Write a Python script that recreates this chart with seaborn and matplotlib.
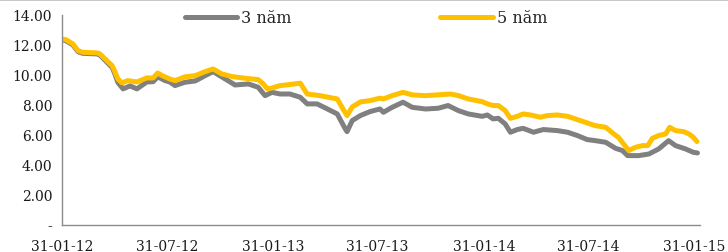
import pandas as pd
import numpy as np
import matplotlib
matplotlib.use("Agg")
import matplotlib.pyplot as plt
from matplotlib.ticker import FuncFormatter
from matplotlib.lines import Line2D
import seaborn as sns

# du lieu doc tu hinh (lai suat trai phieu chinh phu)
ngay_3nam = ["2012-01-31", "2012-02-07", "2012-02-19", "2012-02-28", "2012-03-07", "2012-04-01",
             "2012-04-06", "2012-04-18", "2012-04-27", "2012-05-02", "2012-05-07", "2012-05-16",
             "2012-05-28", "2012-06-09", "2012-06-26", "2012-07-07", "2012-07-15", "2012-07-28",
             "2012-08-05", "2012-08-14", "2012-08-31", "2012-09-18", "2012-10-05", "2012-10-19",
             "2012-11-09", "2012-11-26", "2012-12-19", "2013-01-05", "2013-01-17", "2013-01-29",
             "2013-02-12", "2013-03-01", "2013-03-19", "2013-03-31", "2013-04-17", "2013-05-05",
             "2013-05-22", "2013-06-05", "2013-06-08", "2013-06-17", "2013-07-01", "2013-07-18",
             "2013-08-04", "2013-08-10", "2013-08-25", "2013-09-13", "2013-09-29", "2013-10-22",
             "2013-11-13", "2013-11-30", "2013-12-18", "2014-01-04", "2014-01-28", "2014-02-06",
             "2014-02-16", "2014-02-25", "2014-03-09", "2014-03-18", "2014-03-30", "2014-04-09",
             "2014-04-27", "2014-05-14", "2014-06-07", "2014-06-25", "2014-07-12", "2014-07-29",
             "2014-08-12", "2014-08-30", "2014-09-16", "2014-09-28", "2014-10-07", "2014-10-26",
             "2014-11-13", "2014-11-30", "2014-12-17", "2014-12-29", "2015-01-15", "2015-01-29",
             "2015-02-05"]
ls_3nam = [12.35, 12.28, 12.00, 11.55, 11.44, 11.40,
           11.32, 10.85, 10.50, 10.05, 9.50, 9.07,
           9.27, 9.07, 9.53, 9.55, 9.87, 9.62,
           9.53, 9.29, 9.51, 9.60, 9.95, 10.22,
           9.73, 9.33, 9.40, 9.18, 8.62, 8.84,
           8.73, 8.73, 8.51, 8.07, 8.07, 7.73,
           7.40, 6.40, 6.22, 6.96, 7.29, 7.56,
           7.73, 7.51, 7.84, 8.18, 7.84, 7.73,
           7.78, 7.96, 7.62, 7.40, 7.24, 7.33,
           7.07, 7.11, 6.73, 6.18, 6.36, 6.44,
           6.18, 6.36, 6.29, 6.18, 5.96, 5.69,
           5.62, 5.51, 5.11, 4.96, 4.62, 4.62,
           4.73, 5.07, 5.62, 5.29, 5.07, 4.84,
           4.80]

ngay_5nam = ["2012-01-31", "2012-02-07", "2012-02-19", "2012-02-28", "2012-03-07", "2012-04-01",
             "2012-04-06", "2012-04-18", "2012-04-27", "2012-05-02", "2012-05-07", "2012-05-14",
             "2012-05-24", "2012-06-09", "2012-06-26", "2012-07-07", "2012-07-15", "2012-07-24",
             "2012-08-05", "2012-08-14", "2012-08-31", "2012-09-18", "2012-10-05", "2012-10-19",
             "2012-11-03", "2012-11-21", "2012-12-13", "2013-01-05", "2013-01-14", "2013-01-21",
             "2013-01-29", "2013-02-12", "2013-03-01", "2013-03-19", "2013-03-31", "2013-04-22",
             "2013-05-22", "2013-06-01", "2013-06-08", "2013-06-17", "2013-07-01", "2013-07-18",
             "2013-08-04", "2013-08-10", "2013-08-25", "2013-09-13", "2013-09-29", "2013-10-22",
             "2013-11-11", "2013-12-04", "2013-12-18", "2014-01-04", "2014-01-28", "2014-02-06",
             "2014-02-16", "2014-02-25", "2014-03-09", "2014-03-18", "2014-03-30", "2014-04-09",
             "2014-04-22", "2014-05-09", "2014-05-21", "2014-06-07", "2014-06-25", "2014-07-12",
             "2014-07-29", "2014-08-12", "2014-08-30", "2014-09-13", "2014-09-21", "2014-09-30",
             "2014-10-09", "2014-10-21", "2014-11-02", "2014-11-11", "2014-11-19", "2014-11-30",
             "2014-12-12", "2014-12-19", "2014-12-29", "2015-01-12", "2015-01-21", "2015-01-29",
             "2015-02-04"]
ls_5nam = [12.40, 12.35, 12.07, 11.62, 11.51, 11.47,
           11.40, 10.95, 10.62, 10.20, 9.73, 9.47,
           9.62, 9.53, 9.80, 9.80, 10.13, 9.93,
           9.73, 9.62, 9.87, 9.95, 10.22, 10.40,
           10.07, 9.89, 9.78, 9.69, 9.40, 9.07,
           9.13, 9.29, 9.36, 9.45, 8.73, 8.62,
           8.40, 7.73, 7.29, 7.87, 8.20, 8.29,
           8.45, 8.40, 8.62, 8.84, 8.67, 8.62,
           8.67, 8.73, 8.62, 8.40, 8.22, 8.07,
           7.96, 7.96, 7.62, 7.11, 7.24, 7.40,
           7.33, 7.18, 7.29, 7.33, 7.24, 7.02,
           6.80, 6.62, 6.51, 6.07, 5.84, 5.40,
           4.96, 5.18, 5.29, 5.29, 5.78, 5.96,
           6.07, 6.51, 6.29, 6.22, 6.07, 5.84,
           5.56]

ten_chuoi = ["3 năm", "5 năm"]
mau = ["#808080", "#FFC000"]
nhan_x = ["31-01-12", "31-07-12", "31-01-13", "31-07-13", "31-01-14", "31-07-14", "31-01-15"]

df = pd.concat([
    pd.DataFrame({"ngay": pd.to_datetime(ngay_3nam), "ls": ls_3nam, "ky_han": ten_chuoi[0]}),
    pd.DataFrame({"ngay": pd.to_datetime(ngay_5nam), "ls": ls_5nam, "ky_han": ten_chuoi[1]}),
], ignore_index=True)

sns.set_style("white")
plt.rcParams["font.family"] = ["DejaVu Serif"]
plt.rcParams["font.size"] = 10

fig = plt.figure(figsize=(7.28, 2.53), dpi=100)
ax = fig.add_axes([0.085, 0.107, 0.877, 0.830])

sns.lineplot(data=df, x="ngay", y="ls", hue="ky_han", palette=dict(zip(ten_chuoi, mau)),
             linewidth=3.6, ax=ax, legend=False)

ax.set_xlim(pd.Timestamp("2012-01-31"), pd.Timestamp("2015-02-10"))
ax.set_ylim(0, 14)
ax.set_yticks(np.arange(0, 15, 2))
ax.yaxis.set_major_formatter(FuncFormatter(lambda v, p: "-" if v == 0 else f"{v:.2f}"))
ax.set_xticks(pd.to_datetime(["2012-01-31", "2012-07-31", "2013-01-31", "2013-07-31",
                              "2014-01-31", "2014-07-31", "2015-01-31"]))
ax.set_xticklabels(nhan_x)
ax.set_xlabel("")
ax.set_ylabel("")

for s in ["top", "right"]:
    ax.spines[s].set_visible(False)
for s in ["left", "bottom"]:
    ax.spines[s].set_color("#8c8c8c")
    ax.spines[s].set_linewidth(1.0)
ax.tick_params(axis="both", direction="out", length=4, width=1, color="#8c8c8c",
               labelcolor="#1a1a1a", pad=3)
ax.tick_params(axis="x", pad=6)

handles = [Line2D([], [], color=c, linewidth=3.6, solid_capstyle="round") for c in mau]
fig.legend(handles, ten_chuoi, loc="center", bbox_to_anchor=(0.503, 0.925), ncol=2,
           frameon=False, handlelength=3.3, columnspacing=9.3, handletextpad=0.25,
           fontsize=11.5)

# duong vien tren cung
fig.add_artist(Line2D([0, 1], [0.998, 0.998], color="#bdbdbd", linewidth=1.2,
                      transform=fig.transFigure))

fig.savefig("out.png", dpi=100)
